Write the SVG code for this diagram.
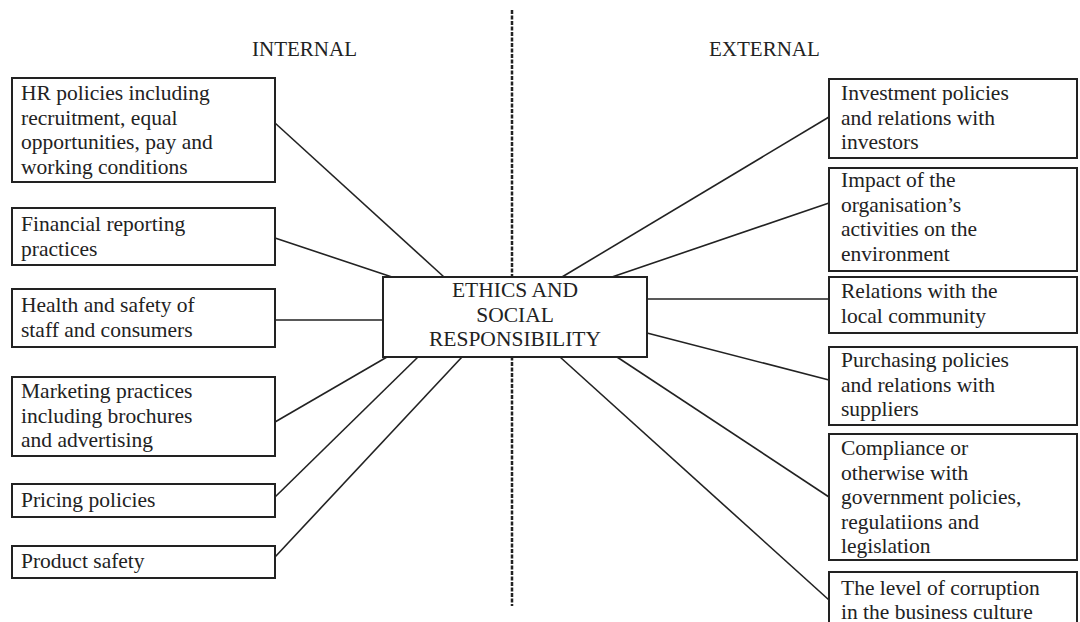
<svg xmlns="http://www.w3.org/2000/svg" width="1080" height="622" viewBox="0 0 1080 622">
<style>
.box{fill:#fff;stroke:#222;stroke-width:2}
.t{font-family:"Liberation Serif","Times New Roman",serif;font-size:21.5px;fill:#222}
.h{font-family:"Liberation Serif","Times New Roman",serif;font-size:21px;fill:#222}
.c{text-anchor:middle}
.ln{stroke:#222;stroke-width:1.6;fill:none}
</style>
<rect width="1080" height="622" fill="#fff"/>
<line x1="512" y1="10" x2="512" y2="606" stroke="#222" stroke-width="2.5" stroke-dasharray="4 1.5"/>
<text class="h" x="252" y="56">INTERNAL</text>
<text class="h" x="709" y="56">EXTERNAL</text>
<g id="connectors">
<line class="ln" x1="275" y1="123" x2="444" y2="277"/>
<line class="ln" x1="275" y1="238" x2="392" y2="277"/>
<line class="ln" x1="275" y1="320" x2="383" y2="320"/>
<line class="ln" x1="275" y1="422" x2="387" y2="357"/>
<line class="ln" x1="275" y1="497" x2="418" y2="357"/>
<line class="ln" x1="275" y1="557" x2="462" y2="357"/>
<line class="ln" x1="829" y1="117" x2="562" y2="277"/>
<line class="ln" x1="829" y1="203" x2="612" y2="277"/>
<line class="ln" x1="829" y1="299" x2="647" y2="299"/>
<line class="ln" x1="829" y1="380" x2="647" y2="333"/>
<line class="ln" x1="829" y1="497" x2="617" y2="357"/>
<line class="ln" x1="829" y1="600" x2="560" y2="357"/>
</g>
<g id="center">
<rect class="box" x="383" y="277" width="264" height="80"/>
<text class="t c" x="515" y="297">ETHICS AND</text>
<text class="t c" x="515" y="321.5">SOCIAL</text>
<text class="t c" x="515" y="346">RESPONSIBILITY</text>
</g>
<g id="hr">
<rect class="box" x="12" y="78" width="263" height="104"/>
<text class="t" x="21" y="100">HR policies including</text>
<text class="t" x="21" y="124.5">recruitment, equal</text>
<text class="t" x="21" y="149">opportunities, pay and</text>
<text class="t" x="21" y="173.5">working conditions</text>
</g>
<g id="financial">
<rect class="box" x="12" y="208" width="263" height="57"/>
<text class="t" x="21" y="231">Financial reporting</text>
<text class="t" x="21" y="255.5">practices</text>
</g>
<g id="health">
<rect class="box" x="12" y="289" width="263" height="58"/>
<text class="t" x="21" y="312">Health and safety of</text>
<text class="t" x="21" y="336.5">staff and consumers</text>
</g>
<g id="marketing">
<rect class="box" x="12" y="377" width="263" height="79"/>
<text class="t" x="21" y="398">Marketing practices</text>
<text class="t" x="21" y="422.5">including brochures</text>
<text class="t" x="21" y="447">and advertising</text>
</g>
<g id="pricing">
<rect class="box" x="12" y="484" width="263" height="33"/>
<text class="t" x="21" y="507">Pricing policies</text>
</g>
<g id="product">
<rect class="box" x="12" y="546" width="263" height="32"/>
<text class="t" x="21" y="568">Product safety</text>
</g>
<g id="investment">
<rect class="box" x="829" y="79" width="248" height="79"/>
<text class="t" x="841" y="100">Investment policies</text>
<text class="t" x="841" y="124.5">and relations with</text>
<text class="t" x="841" y="149">investors</text>
</g>
<g id="impact">
<rect class="box" x="829" y="168" width="248" height="103"/>
<text class="t" x="841" y="187">Impact of the</text>
<text class="t" x="841" y="211.5">organisation’s</text>
<text class="t" x="841" y="236">activities on the</text>
<text class="t" x="841" y="260.5">environment</text>
</g>
<g id="community">
<rect class="box" x="829" y="277" width="248" height="56"/>
<text class="t" x="841" y="298">Relations with the</text>
<text class="t" x="841" y="322.5">local community</text>
</g>
<g id="purchasing">
<rect class="box" x="829" y="347" width="248" height="78"/>
<text class="t" x="841" y="367">Purchasing policies</text>
<text class="t" x="841" y="391.5">and relations with</text>
<text class="t" x="841" y="416">suppliers</text>
</g>
<g id="compliance">
<rect class="box" x="829" y="434" width="248" height="126"/>
<text class="t" x="841" y="455">Compliance or</text>
<text class="t" x="841" y="479.5">otherwise with</text>
<text class="t" x="841" y="504">government policies,</text>
<text class="t" x="841" y="528.5">regulatiions and</text>
<text class="t" x="841" y="553">legislation</text>
</g>
<g id="corruption">
<rect class="box" x="829" y="572" width="248" height="60"/>
<text class="t" x="841" y="595">The level of corruption</text>
<text class="t" x="841" y="619">in the business culture</text>
</g>
</svg>
